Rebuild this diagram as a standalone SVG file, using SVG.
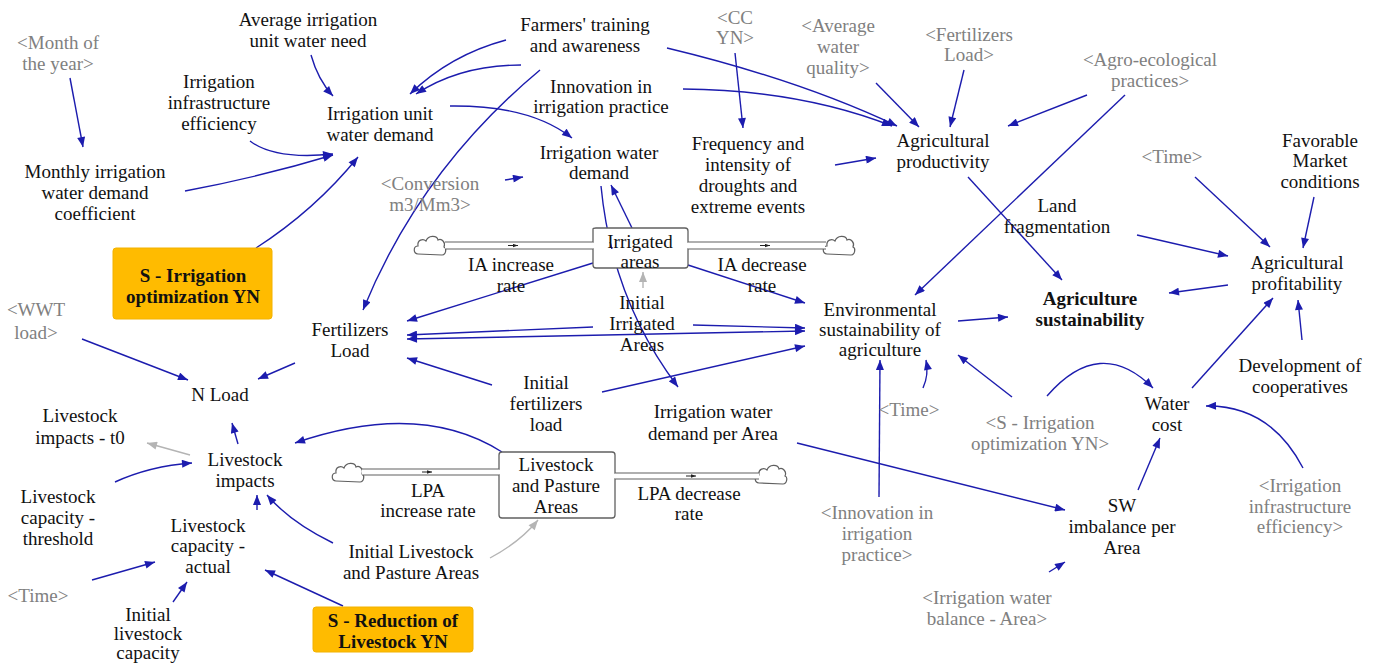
<svg xmlns="http://www.w3.org/2000/svg" width="1384" height="665" viewBox="0 0 1384 665" font-family="Liberation Serif, serif">
<style>
text{font-family:"Liberation Serif", serif;font-size:19px;fill:#111;text-anchor:middle}
.g{fill:#808080}
.b{font-weight:bold}
.c{fill:none;stroke:#1c1cae;stroke-width:1.4;marker-end:url(#a)}
.cg{fill:none;stroke:#b4b4b4;stroke-width:1.4;marker-end:url(#ag)}
.stock{fill:#fff;stroke:#606060;stroke-width:1.3}
.pipe{fill:none;stroke:#606060;stroke-width:1.2}
.cloud{fill:#fff;stroke:#606060;stroke-width:1.2}
.opt{fill:#ffbb00;stroke:#f2b200;stroke-width:1}
</style>
<defs>
<marker id="a" viewBox="0 0 10 8" refX="10" refY="4" markerWidth="11" markerHeight="8" orient="auto-start-reverse" markerUnits="userSpaceOnUse"><path d="M0,0 L10,4 L0,8 z" fill="#1c1cae"/></marker>
<marker id="ag" viewBox="0 0 10 8" refX="10" refY="4" markerWidth="11" markerHeight="8" orient="auto" markerUnits="userSpaceOnUse"><path d="M0,0 L10,4 L0,8 z" fill="#b4b4b4"/></marker>
<marker id="s" viewBox="0 0 6 4" refX="6" refY="2" markerWidth="5" markerHeight="4" orient="auto" markerUnits="userSpaceOnUse"><path d="M0,0 L6,2 L0,4 z" fill="#222"/></marker>
<path id="cl" d="M5,20 C0,20 0,12 5,12 C4,6 10,4 13,7 C15,1 24,1 25,6 C29,4 33,9 31,13 C34,14 33,21 29,21 Z"/>
</defs>

<g id="connectors">
<path class="c" d="M70,78 L83,147"/>
<path class="c" d="M311,55 Q318,80 333,96"/>
<path class="c" d="M250,141 Q275,160 333,154"/>
<path class="c" d="M185,191 Q260,177 333,155"/>
<path class="c" d="M256,248 Q315,210 358,157"/>
<path class="c" d="M506,40 Q450,55 410,94"/>
<path class="c" d="M521,65 Q460,65 416,94"/>
<path class="c" d="M540,70 Q420,170 363,310"/>
<path class="c" d="M667,48 Q800,80 897,126"/>
<path class="c" d="M683,89 Q800,90 892,126"/>
<path class="c" d="M450,106 Q530,105 572,138"/>
<path class="c" d="M505,180 L523,177"/>
<path class="c" d="M735,53 L743,128"/>
<path class="c" d="M835,165 L876,158"/>
<path class="c" d="M876,83 L919,127"/>
<path class="c" d="M964,70 L950,127"/>
<path class="c" d="M1087,95 L1008,126"/>
<path class="c" d="M1125,95 L915,295"/>
<path class="c" d="M968,177 L1062,280"/>
<path class="c" d="M1195,177 L1270,247"/>
<path class="c" d="M1314,197 L1303,248"/>
<path class="c" d="M1137,235 L1228,256"/>
<path class="c" d="M1228,285 L1169,293"/>
<path class="c" d="M958,321 L1008,317"/>
<path class="c" d="M1012,397 L958,355"/>
<path class="c" d="M1047,396 Q1100,335 1153,388"/>
<path class="c" d="M1192,388 L1273,298"/>
<path class="c" d="M1302,340 L1298,300"/>
<path class="c" d="M1303,468 Q1270,405 1206,406"/>
<path class="c" d="M1138,490 L1160,438"/>
<path class="c" d="M797,443 L1065,510"/>
<path class="c" d="M1049,572 L1065,562"/>
<path class="c" d="M879,497 L880,360"/>
<path class="c" d="M923,388 Q929,375 926,360"/>
<path class="c" d="M593,263 L407,321"/>
<path class="c" d="M688,265 L805,303"/>
<path class="c" d="M632,228 L611,185"/>
<path class="c" d="M601,186 Q612,300 678,387"/>
<path class="cg" d="M643,288 L643,272"/>
<path class="c" d="M593,327 L407,335"/>
<path class="c" d="M693,325 L805,328"/>
<path class="c" d="M407,339 L805,331" style="marker-start:url(#a)"/>
<path class="c" d="M492,385 L407,358"/>
<path class="c" d="M602,392 L805,346"/>
<path class="c" d="M82,339 L188,380"/>
<path class="c" d="M295,363 L258,379"/>
<path class="c" d="M238,444 L232,423"/>
<path class="cg" d="M190,455 L147,443"/>
<path class="c" d="M115,482 Q150,466 192,463"/>
<path class="c" d="M502,452 Q420,400 295,443"/>
<path class="c" d="M257,510 L257,495"/>
<path class="c" d="M333,543 Q290,522 267,495"/>
<path class="cg" d="M490,558 Q520,542 538,520"/>
<path class="c" d="M92,580 L155,562"/>
<path class="c" d="M173,602 L187,582"/>
<path class="c" d="M343,606 L265,570"/>
</g>

<g id="irrigated-areas-flow">
<use href="#cl" class="cloud" x="413" y="234"/>
<use href="#cl" class="cloud" x="822" y="234"/>
<rect x="445" y="242" width="150" height="7" fill="#fff"/>
<line class="pipe" x1="445" y1="242" x2="594" y2="242"/>
<line class="pipe" x1="445" y1="249" x2="594" y2="249"/>
<rect x="687" y="242" width="138" height="7" fill="#fff"/>
<line class="pipe" x1="687" y1="242" x2="826" y2="242"/>
<line class="pipe" x1="687" y1="249" x2="826" y2="249"/>
<line x1="508" y1="245.5" x2="518" y2="245.5" stroke="#222" stroke-width="1" marker-end="url(#s)"/>
<line x1="760" y1="245.5" x2="770" y2="245.5" stroke="#222" stroke-width="1" marker-end="url(#s)"/>
</g>
<g id="node-irrigated-areas">
<path class="stock" d="M593,242 L593,229 Q593,228 596,228 L685,228 Q688,228 688,231 L688,242 M688,249 L688,265 Q688,268 685,268 L596,268 Q593,268 593,265 L593,249"/>
<text x="640" y="248">Irrigated<tspan x="640" dy="20">areas</tspan></text>
</g>
<g id="node-ia-increase"><text x="511" y="271">IA increase<tspan x="511" dy="21">rate</tspan></text></g>
<g id="node-ia-decrease"><text x="762" y="271">IA decrease<tspan x="762" dy="21">rate</tspan></text></g>

<g id="lpa-flow">
<use href="#cl" class="cloud" x="331" y="461"/>
<use href="#cl" class="cloud" x="754" y="463"/>
<rect x="362" y="469" width="138" height="6" fill="#fff"/>
<line class="pipe" x1="362" y1="469" x2="500" y2="469"/>
<line class="pipe" x1="362" y1="475" x2="500" y2="475"/>
<rect x="614" y="473" width="145" height="6" fill="#fff"/>
<line class="pipe" x1="614" y1="473" x2="759" y2="473"/>
<line class="pipe" x1="614" y1="479" x2="759" y2="479"/>
<line x1="422" y1="472" x2="432" y2="472" stroke="#222" stroke-width="1" marker-end="url(#s)"/>
<line x1="686" y1="476" x2="696" y2="476" stroke="#222" stroke-width="1" marker-end="url(#s)"/>
</g>
<g id="node-lpa">
<path class="stock" d="M499,469 L499,455 Q499,452 502,452 L612,452 Q615,452 615,455 L615,473 M615,479 L615,515 Q615,518 612,518 L502,518 Q499,518 499,515 L499,475"/>
<text x="556" y="471">Livestock<tspan x="556" dy="21">and Pasture</tspan><tspan x="556" dy="21">Areas</tspan></text>
</g>
<g id="node-lpa-increase"><text x="428" y="497">LPA<tspan x="428" dy="20">increase rate</tspan></text></g>
<g id="node-lpa-decrease"><text x="689" y="500">LPA decrease<tspan x="689" dy="20">rate</tspan></text></g>

<g id="node-month"><text class="g" x="58" y="49">&lt;Month of<tspan x="58" dy="21">the year&gt;</tspan></text></g>
<g id="node-avg-need"><text x="308" y="26">Average irrigation<tspan x="308" dy="21">unit water need</tspan></text></g>
<g id="node-infra-eff"><text x="219" y="88">Irrigation<tspan x="219" dy="21">infrastructure</tspan><tspan x="219" dy="21">efficiency</tspan></text></g>
<g id="node-iuwd"><text x="380" y="120">Irrigation unit<tspan x="380" dy="21">water demand</tspan></text></g>
<g id="node-monthly"><text x="95" y="178">Monthly irrigation<tspan x="95" dy="21">water demand</tspan><tspan x="95" dy="21">coefficient</tspan></text></g>
<g id="node-s-irrigation">
<rect class="opt" x="113" y="248" width="159" height="71" rx="3"/>
<text class="b" x="193" y="282">S - Irrigation<tspan x="193" dy="21">optimization YN</tspan></text>
</g>
<g id="node-farmers"><text x="585" y="31">Farmers' training<tspan x="585" dy="21">and awareness</tspan></text></g>
<g id="node-cc"><text class="g" x="735" y="24">&lt;CC<tspan x="735" dy="20">YN&gt;</tspan></text></g>
<g id="node-water-quality"><text class="g" x="838" y="32">&lt;Average<tspan x="838" dy="21">water</tspan><tspan x="838" dy="21">quality&gt;</tspan></text></g>
<g id="node-fert-load-shadow"><text class="g" x="969" y="41">&lt;Fertilizers<tspan x="969" dy="20">Load&gt;</tspan></text></g>
<g id="node-agro"><text class="g" x="1150" y="66">&lt;Agro-ecological<tspan x="1150" dy="21">practices&gt;</tspan></text></g>
<g id="node-innovation"><text x="601" y="93">Innovation in<tspan x="601" dy="20">irrigation practice</tspan></text></g>
<g id="node-iwd"><text x="599" y="159">Irrigation water<tspan x="599" dy="20">demand</tspan></text></g>
<g id="node-frequency"><text x="748" y="150">Frequency and<tspan x="748" dy="21">intensity of</tspan><tspan x="748" dy="21">droughts and</tspan><tspan x="748" dy="21">extreme events</tspan></text></g>
<g id="node-ag-productivity"><text x="943" y="147">Agricultural<tspan x="943" dy="21">productivity</tspan></text></g>
<g id="node-conversion"><text class="g" x="430" y="190">&lt;Conversion<tspan x="430" dy="21">m3/Mm3&gt;</tspan></text></g>
<g id="node-time-top"><text class="g" x="1172" y="163">&lt;Time&gt;</text></g>
<g id="node-market"><text x="1320" y="147">Favorable<tspan x="1320" dy="20">Market</tspan><tspan x="1320" dy="21">conditions</tspan></text></g>
<g id="node-land"><text x="1057" y="212">Land<tspan x="1057" dy="21">fragmentation</tspan></text></g>
<g id="node-ag-profitability"><text x="1297" y="269">Agricultural<tspan x="1297" dy="21">profitability</tspan></text></g>
<g id="node-ag-sustainability"><text class="b" x="1090" y="305">Agriculture<tspan x="1090" dy="21">sustainability</tspan></text></g>
<g id="node-env"><text x="880" y="316">Environmental<tspan x="880" dy="20">sustainability of</tspan><tspan x="880" dy="20">agriculture</tspan></text></g>
<g id="node-initial-ia"><text x="642" y="309">Initial<tspan x="642" dy="21">Irrigated</tspan><tspan x="642" dy="21">Areas</tspan></text></g>
<g id="node-wwt"><text class="g" x="36" y="316">&lt;WWT<tspan x="36" dy="23">load&gt;</tspan></text></g>
<g id="node-fert-load"><text x="350" y="336">Fertilizers<tspan x="350" dy="21">Load</tspan></text></g>
<g id="node-n-load"><text x="220" y="401">N Load</text></g>
<g id="node-initial-fert"><text x="546" y="389">Initial<tspan x="546" dy="21">fertilizers</tspan><tspan x="546" dy="21">load</tspan></text></g>
<g id="node-iwd-area"><text x="713" y="418">Irrigation water<tspan x="713" dy="22">demand per Area</tspan></text></g>
<g id="node-time-mid"><text class="g" x="909" y="416">&lt;Time&gt;</text></g>
<g id="node-s-irrigation-shadow"><text class="g" x="1040" y="429">&lt;S - Irrigation<tspan x="1040" dy="21">optimization YN&gt;</tspan></text></g>
<g id="node-water-cost"><text x="1167" y="410">Water<tspan x="1167" dy="21">cost</tspan></text></g>
<g id="node-coop"><text x="1300" y="372">Development of<tspan x="1300" dy="21">cooperatives</tspan></text></g>
<g id="node-infra-shadow"><text class="g" x="1300" y="492">&lt;Irrigation<tspan x="1300" dy="21">infrastructure</tspan><tspan x="1300" dy="20">efficiency&gt;</tspan></text></g>
<g id="node-sw"><text x="1122" y="512">SW<tspan x="1122" dy="21">imbalance per</tspan><tspan x="1122" dy="21">Area</tspan></text></g>
<g id="node-innovation-shadow"><text class="g" x="877" y="519">&lt;Innovation in<tspan x="877" dy="21">irrigation</tspan><tspan x="877" dy="21">practice&gt;</tspan></text></g>
<g id="node-iw-balance"><text class="g" x="987" y="604">&lt;Irrigation water<tspan x="987" dy="21">balance - Area&gt;</tspan></text></g>
<g id="node-li-t0"><text x="80" y="422">Livestock<tspan x="80" dy="22">impacts - t0</tspan></text></g>
<g id="node-li"><text x="245" y="466">Livestock<tspan x="245" dy="21">impacts</tspan></text></g>
<g id="node-lc-threshold"><text x="58" y="503">Livestock<tspan x="58" dy="21">capacity -</tspan><tspan x="58" dy="21">threshold</tspan></text></g>
<g id="node-lc-actual"><text x="208" y="532">Livestock<tspan x="208" dy="20">capacity -</tspan><tspan x="208" dy="21">actual</tspan></text></g>
<g id="node-time-bottom"><text class="g" x="38" y="602">&lt;Time&gt;</text></g>
<g id="node-initial-lc"><text x="148" y="621">Initial<tspan x="148" dy="19">livestock</tspan><tspan x="148" dy="19">capacity</tspan></text></g>
<g id="node-initial-lpa"><text x="411" y="558">Initial Livestock<tspan x="411" dy="21">and Pasture Areas</tspan></text></g>
<g id="node-s-reduction">
<rect class="opt" x="313" y="607" width="160" height="45" rx="3"/>
<text class="b" x="393" y="627">S - Reduction of<tspan x="393" dy="21">Livestock YN</tspan></text>
</g>
</svg>
